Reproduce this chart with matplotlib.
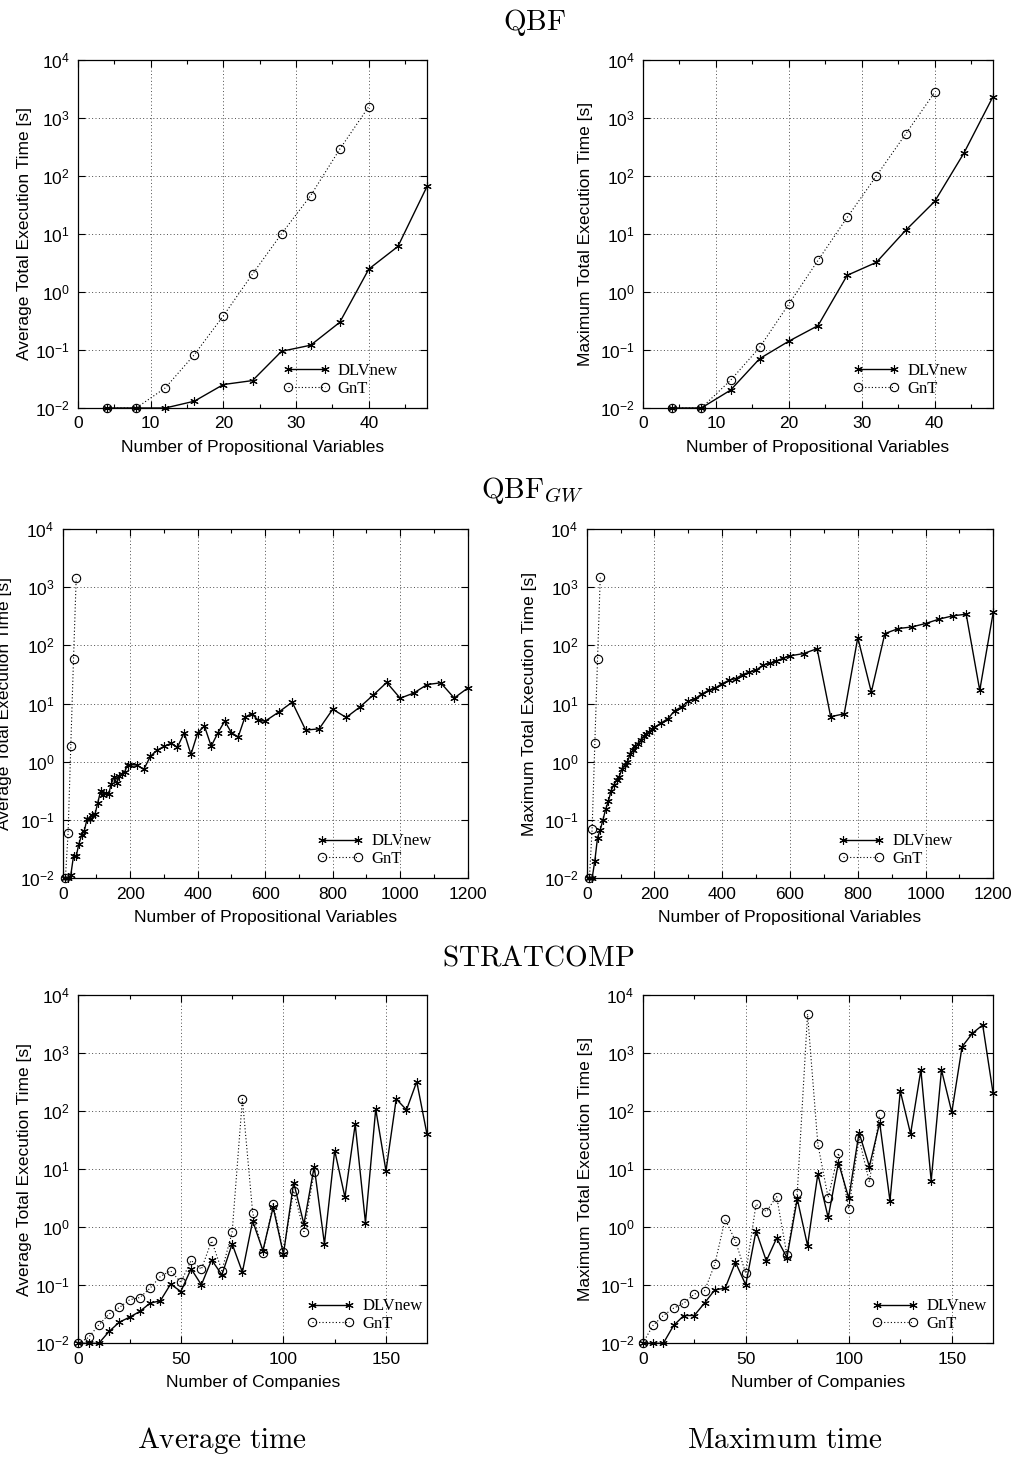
import numpy as np
import matplotlib
matplotlib.use('Agg')
from matplotlib import pyplot as plt
from matplotlib.ticker import FixedLocator, FuncFormatter, MultipleLocator, NullLocator

plt.rcParams['font.family'] = ['Liberation Sans', 'DejaVu Sans']
plt.rcParams['mathtext.fontset'] = 'custom'
plt.rcParams['mathtext.rm'] = 'Liberation Sans'
plt.rcParams['mathtext.it'] = 'Liberation Sans:italic'
plt.rcParams['mathtext.bf'] = 'Liberation Sans:bold'

# QBF: number of propositional variables
qbf_n = [4, 8, 12, 16, 20, 24, 28, 32, 36, 40, 44, 48]
qbf_gnt_n = [4, 8, 12, 16, 20, 24, 28, 32, 36, 40]
qbf_avg_dlv = [0.01, 0.01, 0.01, 0.0131, 0.0254, 0.0297, 0.095, 0.121, 0.30, 2.49, 6.1, 66]
qbf_avg_gnt = [0.01, 0.01, 0.0222, 0.083, 0.39, 2.04, 10.1, 46, 290, 1575]
qbf_max_dlv = [0.01, 0.01, 0.0203, 0.071, 0.142, 0.263, 1.94, 3.24, 11.5, 36.4, 247, 2340]
qbf_max_gnt = [0.01, 0.01, 0.030, 0.111, 0.62, 3.51, 19.3, 100, 525, 2770]

# QBF_GW
gw_n = ([8, 16, 24, 32, 40, 48, 56, 64, 72, 80, 88, 96, 104, 112, 120, 128, 136, 144,
         152, 160, 168, 176, 184, 192, 200]
        + [220, 240, 260, 280, 300, 320, 340, 360, 380, 400, 420, 440, 460, 480, 500,
           520, 540, 560, 580, 600]
        + [640, 680, 720, 760, 800, 840, 880, 920, 960, 1000, 1040, 1080, 1120, 1160, 1200])
gw_gnt_n = [8, 16, 24, 32, 40]
gw_avg_dlv = [0.01, 0.01, 0.0114, 0.024, 0.024, 0.039, 0.055, 0.065, 0.104, 0.105, 0.12, 0.128,
              0.20, 0.31, 0.27, 0.29, 0.28, 0.42, 0.55, 0.43, 0.58, 0.62, 0.68, 0.89, 0.90,
              0.88, 0.74, 1.25, 1.59, 1.84, 2.07, 1.79, 3.16, 1.34, 3.16, 4.11, 1.86, 3.16, 5.01,
              3.16, 2.69, 5.88, 6.7, 5.15, 5.01,
              7.16, 10.6, 3.51, 3.70, 8.0, 5.8, 8.7, 14.0, 23.1, 12.4, 15.2, 21.3, 22.8, 12.5, 18.5]
gw_avg_gnt = [0.01, 0.06, 1.91, 57.8, 1430]
gw_max_dlv = [0.01, 0.01, 0.020, 0.050, 0.068, 0.101, 0.154, 0.209, 0.322, 0.40, 0.49, 0.56,
              0.75, 0.89, 0.98, 1.36, 1.57, 1.85, 2.05, 2.41, 2.74, 3.05, 3.27, 3.6, 3.92,
              4.67, 5.53, 7.6, 8.8, 11.0, 12.2, 14.7, 17.0, 18.7, 22.1, 25.2, 27.0, 31.6, 34.7,
              37.5, 46, 49.5, 54.3, 60.4, 66.2,
              72.5, 88, 5.96, 6.7, 136, 15.8, 160, 195, 208, 238, 283, 322, 344, 16.9, 378]
gw_max_gnt = [0.01, 0.070, 2.07, 59.3, 1470]

# STRATCOMP: number of companies
comp_n = list(range(0, 171, 5))
comp_gnt_n = list(range(0, 116, 5))
comp_avg_dlv = [0.01, 0.01, 0.01, 0.016, 0.0231, 0.0282, 0.0354, 0.0492, 0.054, 0.1045,
                0.078, 0.192, 0.1017, 0.274, 0.151, 0.516, 0.168, 1.28, 0.396, 2.21,
                0.343, 5.88, 1.13, 11.1, 0.516, 20.9, 3.29, 59.3, 1.20, 108,
                9.33, 162, 105, 322, 39.9]
comp_avg_gnt = [0.01, 0.0126, 0.0208, 0.0318, 0.0414, 0.0561, 0.0615, 0.089, 0.1416, 0.177,
                0.113, 0.267, 0.189, 0.582, 0.179, 0.82, 162, 1.79, 0.356, 2.52,
                0.372, 4.23, 0.84, 8.85]
comp_max_dlv = [0.01, 0.01, 0.01, 0.0203, 0.0301, 0.0301, 0.0492, 0.0834, 0.089, 0.249,
                0.1017, 0.865, 0.263, 0.647, 0.30, 3.08, 0.483, 8.28, 1.47, 13.0,
                3.16, 42.7, 11.1, 63.4, 2.84, 222, 40.5, 512, 6.28, 512,
                95.5, 1288, 2188, 3046, 208]
comp_max_gnt = [0.01, 0.0203, 0.0301, 0.0403, 0.0492, 0.0703, 0.080, 0.231, 1.37, 0.582,
                0.161, 2.49, 1.86, 3.37, 0.334, 3.85, 4710, 26.9, 3.24, 18.8,
                2.07, 34.0, 5.96, 88.1]

W, H = 1015, 1457
fig = plt.figure(figsize=(W / 100, H / 100), dpi=100)


def panel(box, xlim, xmaj, xmin, xlab, ylab, ylab_x, x1, y1, x2, y2, leg_x):
    l, t, r, b = box
    ax = fig.add_axes([l / W, 1 - b / H, (r - l) / W, (b - t) / H])
    ax.plot(x1, y1, color='k', lw=1.0, marker=(6, 2, 0), ms=6, mew=0.8, label='DLVnew',
            clip_on=False, zorder=3)
    ax.plot(x2, y2, color='k', lw=0.8, ls=(0, (1, 2)), marker='o', ms=6, mfc='none',
            mew=0.8, label='GnT', clip_on=False, zorder=3)
    ax.set_yscale('log')
    ax.set_ylim(1e-2, 1e4)
    ax.set_xlim(*xlim)
    ax.yaxis.set_major_locator(FixedLocator([10.0 ** k for k in range(-2, 5)]))
    ax.yaxis.set_minor_locator(NullLocator())
    ax.yaxis.set_major_formatter(FuncFormatter(
        lambda v, p: r'$\mathregular{10^{%d}}$' % int(round(np.log10(v)))))
    ax.xaxis.set_major_locator(MultipleLocator(xmaj))
    ax.xaxis.set_minor_locator(MultipleLocator(xmin))
    ax.tick_params(which='both', direction='in', top=True, right=True, labelsize=12.5)
    ax.tick_params(which='major', length=5, width=0.8)
    ax.tick_params(which='minor', length=3, width=0.8)
    ax.tick_params(axis='x', pad=6)
    ax.tick_params(axis='y', pad=6)
    ax.grid(True, which='major', color='0.3', ls=(0, (1, 2.5)), lw=0.7)
    for s in ax.spines.values():
        s.set_linewidth(0.9)
    ax.set_xlabel(xlab, fontsize=12.5)
    ax.set_ylabel(ylab, fontsize=12.5)
    ax.xaxis.set_label_coords(0.5, -0.092)
    ax.yaxis.set_label_coords(ylab_x, 0.5)
    ax.legend(loc='lower left', bbox_to_anchor=(leg_x, 0.032), frameon=False, numpoints=2,
              prop={'family': 'Liberation Serif', 'size': 12}, handlelength=2.8,
              handletextpad=0.5, labelspacing=0.1, borderpad=0, borderaxespad=0)
    return ax


xl_q = 'Number of Propositional Variables'
xl_c = 'Number of Companies'
yl_a = 'Average Total Execution Time [s]'
yl_m = 'Maximum Total Execution Time [s]'

panel((78, 60, 427, 408), (0, 48), 10, 5, xl_q, yl_a, -0.132,
      qbf_n, qbf_avg_dlv, qbf_gnt_n, qbf_avg_gnt, 0.587)
panel((643, 60, 993, 408), (0, 48), 10, 5, xl_q, yl_m, -0.143,
      qbf_n, qbf_max_dlv, qbf_gnt_n, qbf_max_gnt, 0.599)
panel((62.7, 529, 467.7, 878.3), (0, 1200), 200, 100, xl_q, yl_a, -0.125,
      gw_n, gw_avg_dlv, gw_gnt_n, gw_avg_gnt, 0.627)
panel((586.7, 529, 993.3, 878.3), (0, 1200), 200, 100, xl_q, yl_m, -0.123,
      gw_n, gw_max_dlv, gw_gnt_n, gw_max_gnt, 0.617)
panel((78.3, 995, 427, 1343.3), (0, 170), 50, 25, xl_c, yl_a, -0.132,
      comp_n, comp_avg_dlv, comp_gnt_n, comp_avg_gnt, 0.656)
panel((642.7, 995, 993, 1343.3), (0, 170), 50, 25, xl_c, yl_m, -0.143,
      comp_n, comp_max_dlv, comp_gnt_n, comp_max_gnt, 0.654)

# section titles in Computer Modern
titles = [(535, 22, r'$\mathrm{QBF}$'), (533, 490, r'$\mathrm{QBF}_{GW}$'),
          (538, 958, r'$\mathrm{STRATCOMP}$'), (222, 1440, r'$\mathrm{Average\ time}$'),
          (785, 1440, r'$\mathrm{Maximum\ time}$')]
for x, y, s in titles:
    fig.text(x / W, 1 - y / H, s, ha='center', va='center', fontsize=21, math_fontfamily='cm')

fig.savefig('out.png', dpi=100)
